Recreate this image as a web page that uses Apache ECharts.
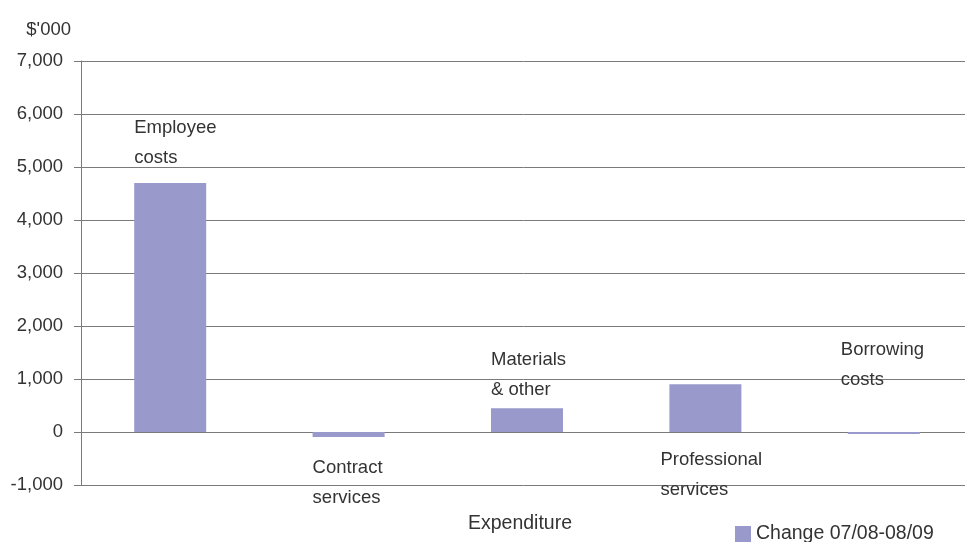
<!DOCTYPE html>
<html lang="en">
<head>
    <meta charset="UTF-8">
    <title>Expenditure change</title>
    <script src="https://cdn.jsdelivr.net/npm/echarts@6/dist/echarts.min.js"></script>
    <style>
        html, body { margin: 0; padding: 0; background: #fff; }
        #container { width: 965px; height: 542px; }
    </style>
</head>
<body>
<div id="container"></div>
<script>
    var categories = ['Employee\ncosts', 'Contract\nservices', 'Materials\n& other', 'Professional\nservices', 'Borrowing\ncosts'];
    var changeValues = [4700, -95, 450, 900, -40];
    var seriesName = 'Change 07/08-08/09';
    var yTicks = { min: -1000, max: 7000, interval: 1000 };

    // label placement relative to each bar (left, top of the bar rect)
    var labelPos = [[0, -70], [0, 21], [0, -63], [-9, 61], [-7, -97]];

    var fontFamily = '"Liberation Sans Narrow", "Arial Narrow", "Liberation Sans", Arial, sans-serif';
    var fontSize = 18.5;
    var textColor = '#333';
    var lineColor = '#7a7a7a';

    var myChart = echarts.init(document.getElementById('container'));

    myChart.setOption({
        animation: false,
        textStyle: { fontFamily: fontFamily },
        grid: { left: 81, right: -8, top: 61, bottom: 57, outerBoundsMode: 'none', containLabel: false },
        legend: {
            left: 735,
            top: 524,
            padding: 0,
            itemWidth: 16,
            itemHeight: 16,
            itemGap: 6,
            icon: 'rect',
            textStyle: { fontSize: 19.5, color: textColor, fontFamily: fontFamily },
            data: [seriesName]
        },
        xAxis: {
            type: 'category',
            data: categories,
            name: 'Expenditure',
            nameLocation: 'middle',
            nameGap: 29,
            nameTextStyle: { fontSize: 19.5, color: textColor, fontFamily: fontFamily, padding: [0, 14, 0, 0] },
            axisLine: { onZero: true, lineStyle: { color: lineColor, width: 1 } },
            axisTick: { show: false },
            axisLabel: { show: false }
        },
        yAxis: {
            type: 'value',
            min: yTicks.min,
            max: yTicks.max,
            interval: yTicks.interval,
            name: "$'000",
            nameLocation: 'end',
            nameGap: 22,
            nameTextStyle: { fontSize: fontSize, color: textColor, fontFamily: fontFamily, align: 'right', padding: [0, 10, 0, 0] },
            axisLine: { show: true, lineStyle: { color: lineColor, width: 1 } },
            axisTick: { show: true, length: 7, lineStyle: { color: lineColor } },
            axisLabel: {
                fontSize: fontSize,
                color: textColor,
                fontFamily: fontFamily,
                margin: 18,
                formatter: function (v) { return echarts.format.addCommas(v); }
            },
            splitLine: { show: true, lineStyle: { color: lineColor, width: 1 } }
        },
        series: [{
            name: seriesName,
            type: 'bar',
            barWidth: 72,
            itemStyle: { color: '#9999cc' },
            data: changeValues.map(function (v, i) {
                return {
                    value: v,
                    label: {
                        show: true,
                        position: labelPos[i],
                        align: 'left',
                        verticalAlign: 'top',
                        lineHeight: 30,
                        fontSize: fontSize,
                        color: textColor,
                        fontFamily: fontFamily,
                        formatter: function () { return categories[i]; }
                    }
                };
            })
        }]
    });
</script>
</body>
</html>
